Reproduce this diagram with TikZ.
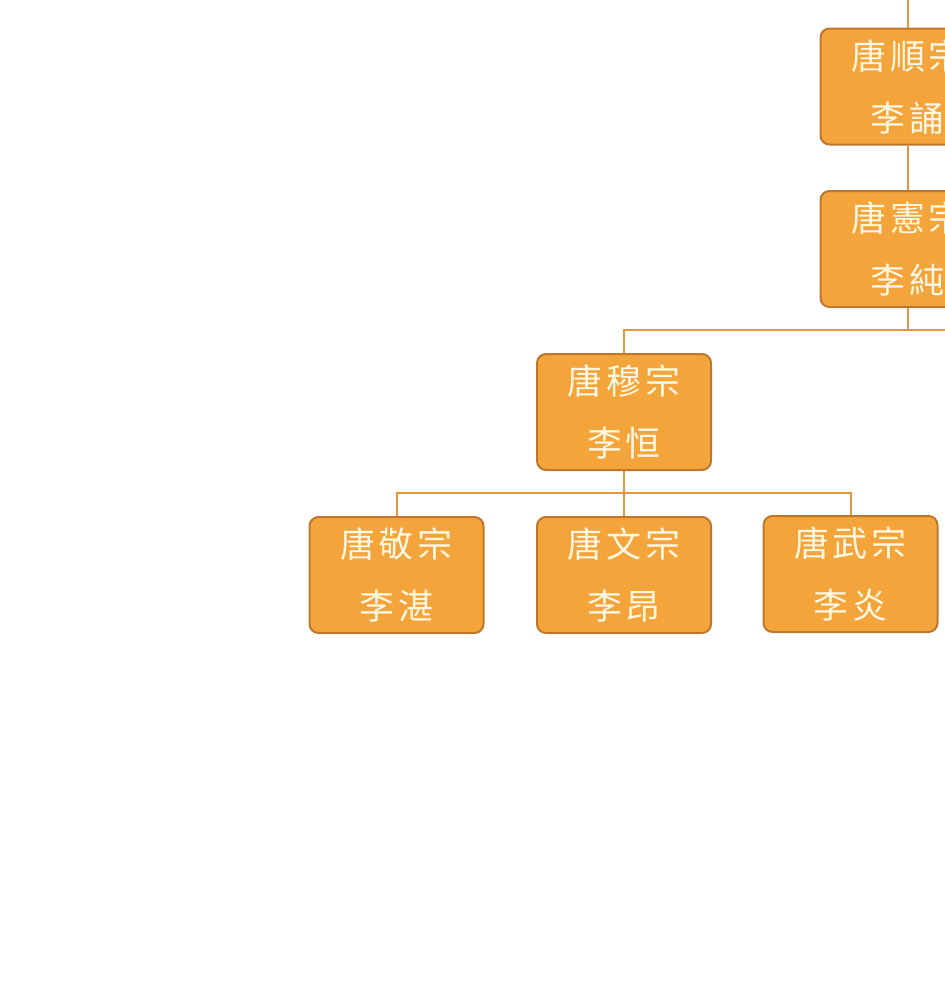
\documentclass[tikz,border=0pt]{standalone}
\usepackage{fontspec}
\newfontfamily\cjk{Noto Sans CJK TC}
\definecolor{boxfill}{RGB}{243,164,58}
\definecolor{boxline}{RGB}{190,120,45}
\definecolor{conn}{RGB}{226,152,62}
\definecolor{txt}{RGB}{255,247,225}
\newcommand{\gp}{\kern4pt}
\tikzset{
  person/.style={draw=boxline, line width=2pt, fill=boxfill, rounded corners=9pt,
    minimum width=174pt, minimum height=116pt, inner sep=0pt, text=txt,
    align=center, font=\cjk\fontsize{35}{64}\selectfont},
  link/.style={draw=conn, line width=2pt}
}
\begin{document}
\begin{tikzpicture}[x=1pt,y=-1pt]
\useasboundingbox (0,0) rectangle (945,988);
\clip (0,0) rectangle (945,988);
\node[person] (shun) at (907.5,86.5) {唐\gp 順\gp 宗\\[-2pt]李\gp 誦};
\node[person] (xian) at (907.5,249) {唐\gp 憲\gp 宗\\[-2pt]李\gp 純};
\node[person] (mu) at (624,412) {唐\gp 穆\gp 宗\\[-2pt]李\gp 恒};
\node[person] (jing) at (396.5,575) {唐\gp 敬\gp 宗\\[-2pt]李\gp 湛};
\node[person] (wen) at (624,575) {唐\gp 文\gp 宗\\[-2pt]李\gp 昂};
\node[person] (wu) at (850.5,574) {唐\gp 武\gp 宗\\[-2pt]李\gp 炎};
\coordinate (top) at (907.5,-5);
\coordinate (busA) at (907.5,330);
\coordinate (busAend) at (1000,330);
\coordinate (busB) at (624,493);
\draw[link] (top) -- (shun.north);
\draw[link] (shun.south) -- (xian.north);
\draw[link] (xian.south) -- (busA) -- (busAend);
\draw[link] (busA) -| (mu.north);
\draw[link] (mu.south) -- (busB);
\draw[link] (busB) -| (jing.north);
\draw[link] (busB) -| (wu.north);
\draw[link] (busB) -- (wen.north);
\end{tikzpicture}
\end{document}
